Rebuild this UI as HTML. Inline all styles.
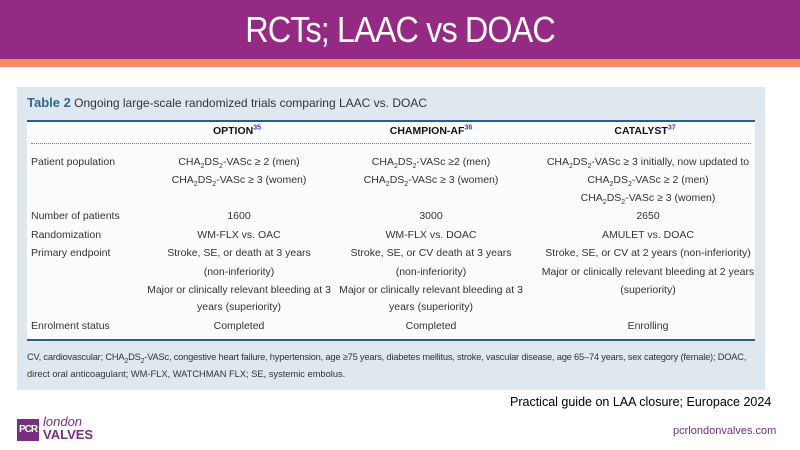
<!DOCTYPE html>
<html><head><meta charset="utf-8"><style>
*{margin:0;padding:0;box-sizing:border-box}
body{width:800px;height:450px;overflow:hidden;background:#fff;font-family:"Liberation Sans",sans-serif;position:relative}
.hdr{position:absolute;left:0;top:0;width:800px;height:59px;background:#952a84;color:#fff;text-align:center;font-size:36px;line-height:59px;letter-spacing:-1px}
.hdr span{display:inline-block;transform:scaleX(0.9)}
.org{position:absolute;left:0;top:59px;width:800px;height:8px;background:#f58a66}
.box{position:absolute;left:17px;top:87px;width:748px;height:303px;background:#dfe8ef}
.tbl{position:absolute;left:27px;top:120px;width:728px;height:221px;background:#fbfcfd;border-top:2px solid #2e5e80;border-bottom:2px solid #2e5e80}
.t{position:absolute;font-size:10.5px;color:#333;white-space:nowrap;line-height:12px}
.c{transform:translateX(-50%);text-align:center}
.h{font-weight:bold;color:#111;font-size:10.5px}
sup{font-size:7px;color:#2f3fd0;line-height:0}
sub{font-size:7px;line-height:0}
.dots{position:absolute;left:31px;top:143px;width:720px;border-top:1.5px dotted #5a7fa0}
</style></head><body>
<div class="hdr"><span>RCTs; LAAC vs DOAC</span></div>
<div class="org"></div>
<div class="box"></div>
<div class="t" style="left:27px;top:97px;font-size:12px;color:#333"><b style="color:#2e6a94;font-size:13px">Table 2</b> Ongoing large-scale randomized trials comparing LAAC vs. DOAC</div>
<div class="tbl"></div>
<div class="t c h" style="left:237px;top:125px">OPTION<sup>35</sup></div>
<div class="t c h" style="left:431px;top:125px">CHAMPION-AF<sup>36</sup></div>
<div class="t c h" style="left:645px;top:125px">CATALYST<sup>37</sup></div>
<div class="dots"></div>
<div class="t" style="left:31px;top:156px">Patient population</div>
<div class="t" style="left:31px;top:210px">Number of patients</div>
<div class="t" style="left:31px;top:229px">Randomization</div>
<div class="t" style="left:31px;top:247px">Primary endpoint</div>
<div class="t" style="left:31px;top:320px">Enrolment status</div>

<div class="t c" style="left:239px;top:156px">CHA<sub>2</sub>DS<sub>2</sub>-VASc ≥ 2 (men)</div>
<div class="t c" style="left:239px;top:174px">CHA<sub>2</sub>DS<sub>2</sub>-VASc ≥ 3 (women)</div>
<div class="t c" style="left:239px;top:210px">1600</div>
<div class="t c" style="left:239px;top:229px">WM-FLX vs. OAC</div>
<div class="t c" style="left:239px;top:247px">Stroke, SE, or death at 3 years</div>
<div class="t c" style="left:239px;top:266px">(non-inferiority)</div>
<div class="t c" style="left:239px;top:284px">Major or clinically relevant bleeding at 3</div>
<div class="t c" style="left:239px;top:301px">years (superiority)</div>
<div class="t c" style="left:239px;top:320px">Completed</div>

<div class="t c" style="left:431px;top:156px">CHA<sub>2</sub>DS<sub>2</sub>-VASc ≥2 (men)</div>
<div class="t c" style="left:431px;top:174px">CHA<sub>2</sub>DS<sub>2</sub>-VASc ≥ 3 (women)</div>
<div class="t c" style="left:431px;top:210px">3000</div>
<div class="t c" style="left:431px;top:229px">WM-FLX vs. DOAC</div>
<div class="t c" style="left:431px;top:247px">Stroke, SE, or CV death at 3 years</div>
<div class="t c" style="left:431px;top:266px">(non-inferiority)</div>
<div class="t c" style="left:431px;top:284px">Major or clinically relevant bleeding at 3</div>
<div class="t c" style="left:431px;top:301px">years (superiority)</div>
<div class="t c" style="left:431px;top:320px">Completed</div>

<div class="t c" style="left:648px;top:156px">CHA<sub>2</sub>DS<sub>2</sub>-VASc ≥ 3 initially, now updated to</div>
<div class="t c" style="left:648px;top:174px">CHA<sub>2</sub>DS<sub>2</sub>-VASc ≥ 2 (men)</div>
<div class="t c" style="left:648px;top:192px">CHA<sub>2</sub>DS<sub>2</sub>-VASc ≥ 3 (women)</div>
<div class="t c" style="left:648px;top:210px">2650</div>
<div class="t c" style="left:648px;top:229px">AMULET vs. DOAC</div>
<div class="t c" style="left:648px;top:247px">Stroke, SE, or CV at 2 years (non-inferiority)</div>
<div class="t c" style="left:648px;top:266px">Major or clinically relevant bleeding at 2 years</div>
<div class="t c" style="left:648px;top:284px">(superiority)</div>
<div class="t c" style="left:648px;top:320px">Enrolling</div>

<div class="t" style="left:27px;top:351px;font-size:9.3px;letter-spacing:-0.2px">CV, cardiovascular; CHA<sub>2</sub>DS<sub>2</sub>-VASc, congestive heart failure, hypertension, age ≥75 years, diabetes mellitus, stroke, vascular disease, age 65–74 years, sex category (female); DOAC,</div>
<div class="t" style="left:27px;top:368px;font-size:9.3px">direct oral anticoagulant; WM-FLX, WATCHMAN FLX; SE, systemic embolus.</div>

<div class="t" style="left:510px;top:395px;font-size:12.5px;color:#000;line-height:14px">Practical guide on LAA closure; Europace 2024</div>

<div style="position:absolute;left:17px;top:419px;width:22px;height:22px;background:#7b2d82;color:#fff;font-size:10px;font-weight:bold;line-height:22px;text-align:center;letter-spacing:-1px">PCR</div>
<div class="t" style="left:43px;top:415px;font-size:13px;font-style:italic;color:#7b2d82;line-height:13px">london</div>
<div class="t" style="left:43px;top:428px;font-size:13px;font-weight:bold;color:#7b2d82;line-height:13px">VALVES</div>
<div class="t" style="left:673px;top:425px;font-size:11px;color:#7b2d82">pcrlondonvalves.com</div>
</body></html>
